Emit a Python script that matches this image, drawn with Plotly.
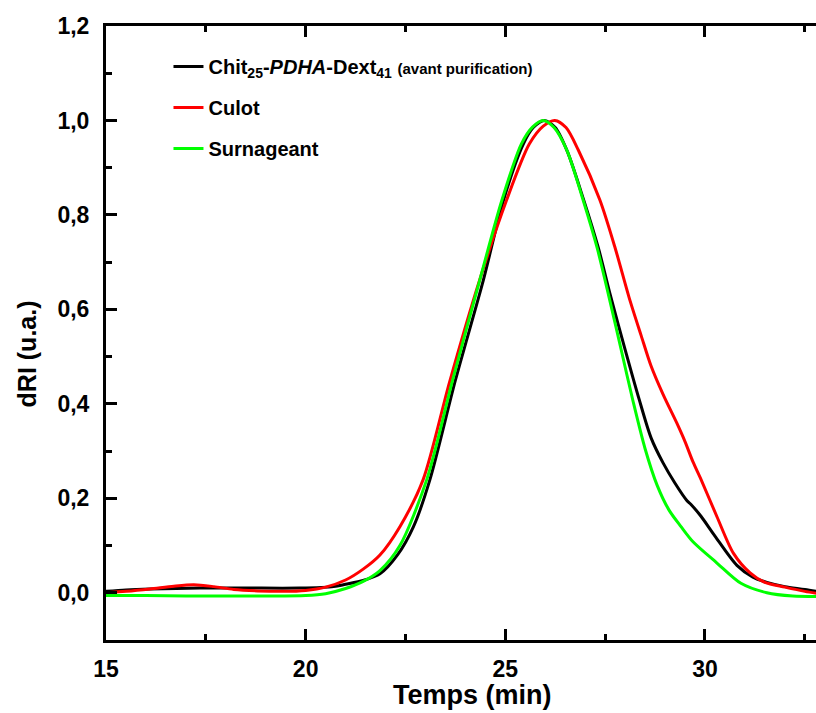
import plotly.graph_objects as go

# ---- data ----
t_chit = [15.0, 15.5, 16.1, 17.35, 18.5, 19.85, 20.7, 21.0, 21.44, 21.86, 22.3, 22.7,
          23.11, 23.75, 24.45, 24.95, 25.45, 25.7, 25.98, 26.25, 26.55, 26.95, 27.33, 27.63, 28.0,
          28.35, 28.65, 28.95, 29.25, 29.55, 29.65, 29.9, 30.25, 30.8, 31.2, 31.55, 32.0,
          32.5, 33.0]
v_chit = [0.003, 0.006, 0.008, 0.010, 0.010, 0.010, 0.013, 0.018, 0.026, 0.040, 0.080, 0.140,
          0.239, 0.450, 0.662, 0.830, 0.950, 0.985, 1.000, 0.985, 0.935, 0.835, 0.730, 0.630, 0.515,
          0.410, 0.328, 0.275, 0.232, 0.195, 0.187, 0.162, 0.120, 0.058, 0.033, 0.022, 0.013,
          0.007, 0.000]

t_culot = [15.0, 15.5, 16.1, 16.7, 17.2, 17.7, 18.2, 18.8, 19.43, 20.0, 20.5, 21.0, 21.44,
           21.86, 22.36, 22.94, 23.6, 24.33, 25.03, 25.6, 25.95, 26.24, 26.52, 26.83, 27.37, 27.75, 28.1,
           28.4, 28.65, 28.95, 29.29, 29.5, 29.7, 29.9, 30.3, 30.71, 31.13, 31.5, 32.0, 32.5, 33.0]
v_culot = [0.000, 0.003, 0.008, 0.014, 0.017, 0.013, 0.007, 0.004, 0.003, 0.005, 0.012, 0.027, 0.050,
           0.080, 0.140, 0.239, 0.445, 0.655, 0.831, 0.950, 0.988, 1.000, 0.985, 0.937, 0.831, 0.730, 0.625,
           0.545, 0.480, 0.420, 0.360, 0.320, 0.277, 0.240, 0.161, 0.084, 0.042, 0.022, 0.012, 0.003, -0.004]

t_surn = [15.0, 16.0, 17.0, 18.0, 19.0, 20.0, 20.5, 21.0, 21.44, 21.86, 22.36, 23.03, 23.68,
          24.36, 24.91, 25.4, 25.68, 25.95, 26.22, 26.54, 26.95, 27.3, 27.6, 27.9, 28.2, 28.5, 28.8,
          29.1, 29.4, 29.7, 30.3, 30.9, 31.55, 32.2, 33.0]
v_surn = [-0.006, -0.006, -0.007, -0.007, -0.007, -0.006, -0.002, 0.009, 0.024, 0.047, 0.100, 0.239, 0.450,
          0.662, 0.830, 0.950, 0.986, 1.000, 0.985, 0.937, 0.831, 0.730, 0.625, 0.515, 0.405, 0.305, 0.228,
          0.175, 0.140, 0.108, 0.063, 0.020, 0.000, -0.007, -0.008]

names = ["Chit<sub>25</sub>-<i>PDHA</i>-Dext<sub>41</sub> <span style='font-size:15px'>(avant purification)</span>",
         "Culot", "Surnageant"]
colors = ["#000000", "#FF0000", "#00FF00"]

x_ticks = [15, 20, 25, 30]
x_minor = [17.5, 22.5, 27.5, 32.5]
y_ticks = [0.0, 0.2, 0.4, 0.6, 0.8, 1.0, 1.2]

FONT = "Liberation Sans, Arial, sans-serif"

fig = go.Figure()
for i, (t, v) in enumerate([(t_chit, v_chit), (t_culot, v_culot), (t_surn, v_surn)]):
    fig.add_trace(go.Scatter(x=t, y=v, mode="lines", name=names[i],
                             legendgroup="g%d" % i,
                             line=dict(color=colors[i], width=3, shape="spline", smoothing=0.8)))

axis_common = dict(showline=True, linecolor="black", linewidth=3, ticks="inside",
                   ticklen=11, tickwidth=2.5, tickcolor="black", showgrid=False, zeroline=False,
                   tickfont=dict(family=FONT, size=23, color="black", weight="bold"))

fig.update_xaxes(range=[15, 32.78], tickvals=x_ticks, mirror="ticks",
                 minor=dict(ticks="inside", ticklen=6, tickwidth=2.5, tickcolor="black",
                            tickvals=x_minor, showgrid=False),
                 ticklabelstandoff=6, **axis_common)
fig.update_yaxes(range=[-0.1, 1.2], tickvals=y_ticks, tickformat=".1f", mirror=False,
                 minor=dict(ticks="inside", ticklen=6, tickwidth=2.5, tickcolor="black",
                            dtick=0.1, showgrid=False),
                 ticklabelstandoff=9, **axis_common)

fig.add_annotation(text="Temps (min)", xref="paper", yref="paper", x=0.5166, y=-0.0896,
                   showarrow=False, xanchor="center", yanchor="middle",
                   font=dict(family=FONT, size=27, color="black", weight="bold"))
fig.add_annotation(text="dRI (u.a.)", xref="paper", yref="paper", x=-0.1119, y=0.466,
                   showarrow=False, xanchor="center", yanchor="middle", textangle=-90,
                   font=dict(family=FONT, size=25, color="black", weight="bold"))

fig.update_layout(
    width=816, height=713,
    margin=dict(l=106, r=0, t=26, b=73),
    paper_bgcolor="white", plot_bgcolor="white",
    separators=", ",
    showlegend=True,
    legend=dict(x=0.088, y=0.966, xanchor="left", yanchor="top", bgcolor="rgba(0,0,0,0)",
                tracegroupgap=12,
                font=dict(family=FONT, size=20, color="black", weight="bold")),
)

fig.write_html("out.html", config={"displayModeBar": False},
               post_script="document.documentElement.style.overflow='hidden';document.body.style.margin='0';document.body.style.overflow='hidden';")
